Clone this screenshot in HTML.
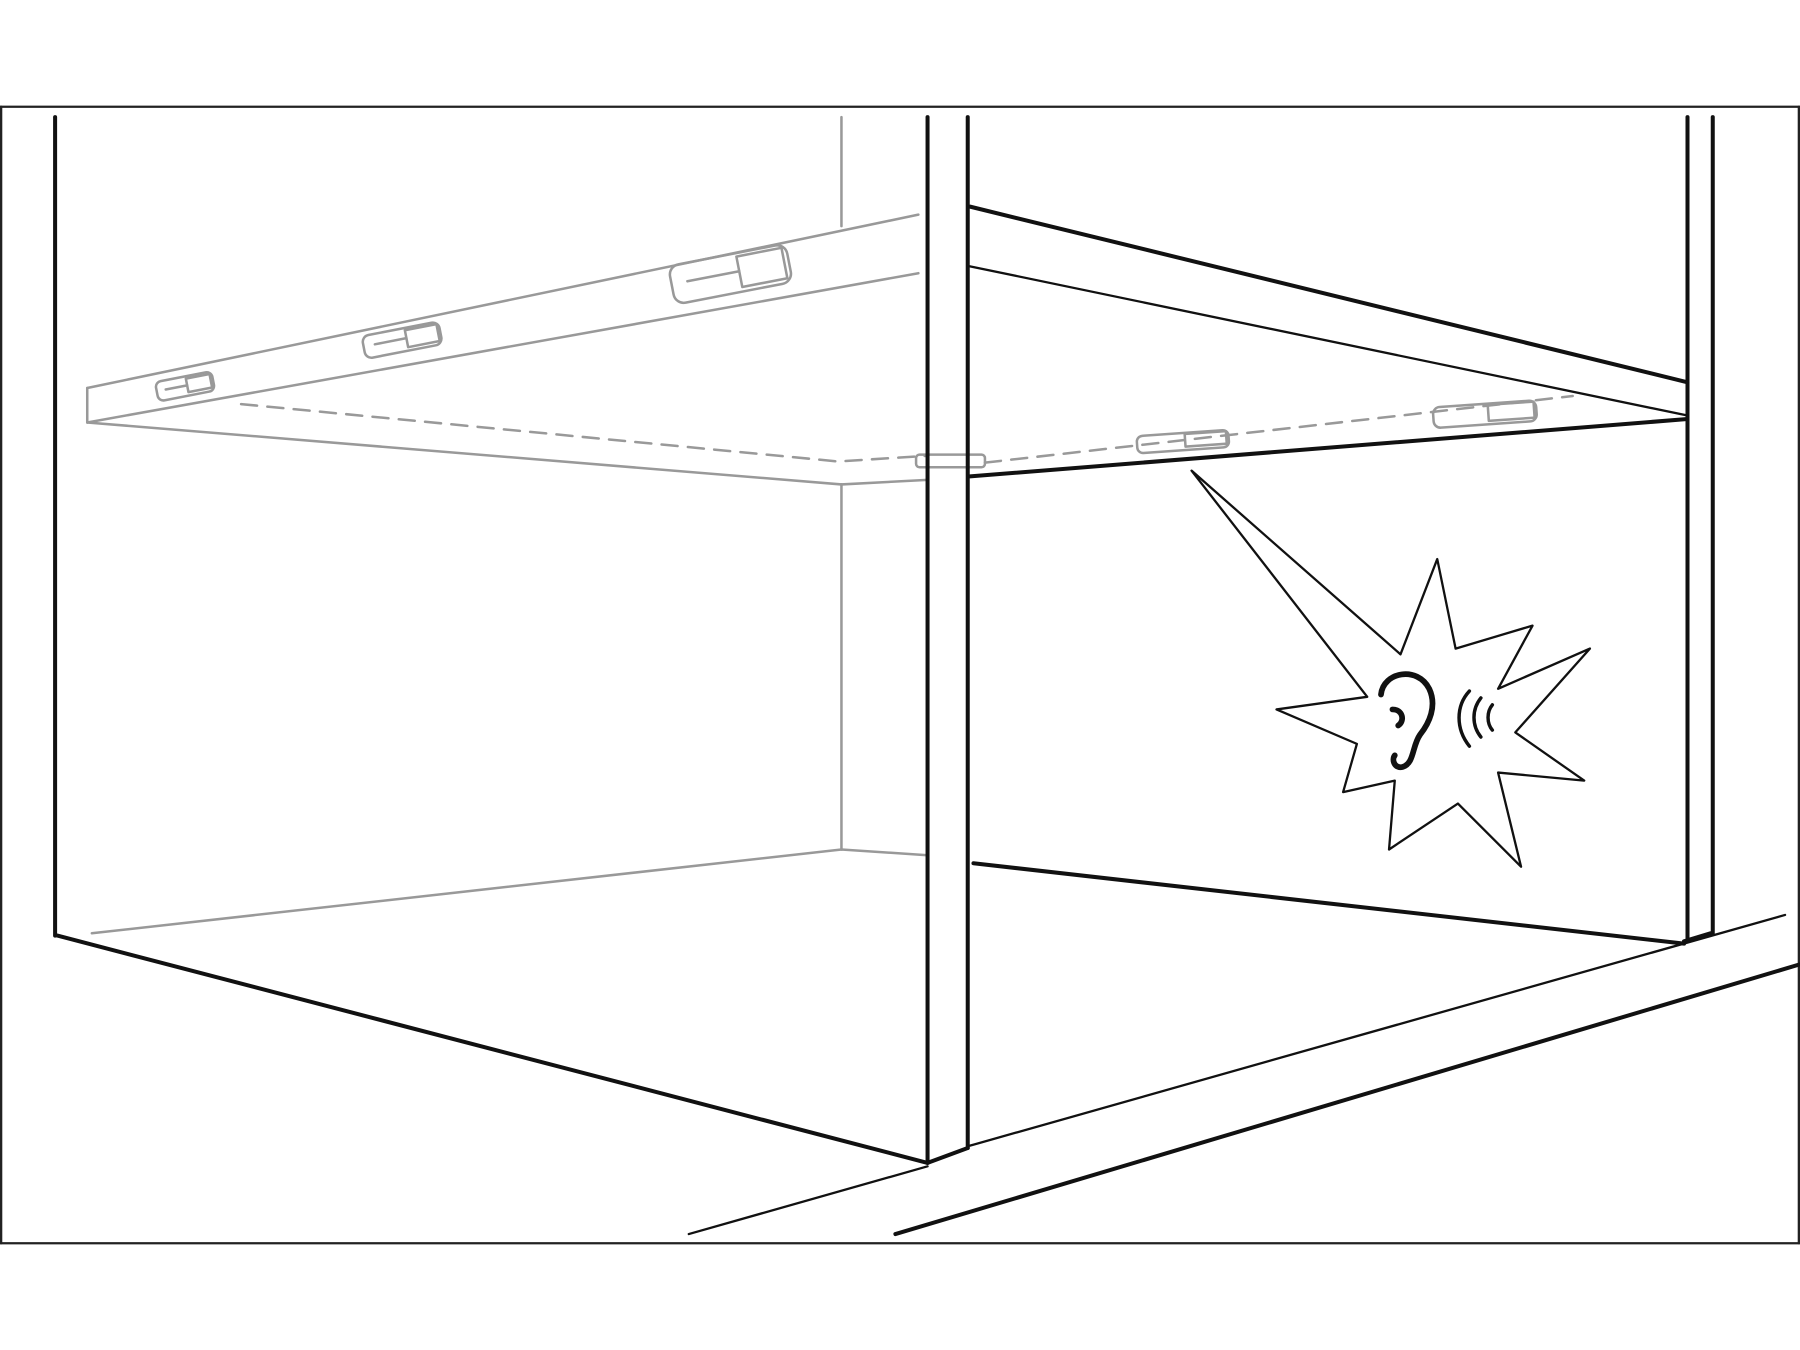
<!DOCTYPE html>
<html><head><meta charset="utf-8"><style>html,body{margin:0;padding:0;background:#fff}svg{display:block}</style></head>
<body>
<svg width="1800" height="1350" viewBox="0 0 1568 1176" xmlns="http://www.w3.org/2000/svg" fill="none" stroke-linecap="round" stroke-linejoin="round">
<rect x="0" y="0" width="1568" height="1176" fill="#fff" stroke="none"/>
<line x1="0" y1="93" x2="1568" y2="93" stroke="#222" stroke-width="2"/>
<line x1="0" y1="1083" x2="1568" y2="1083" stroke="#222" stroke-width="2"/>
<line x1="1" y1="93" x2="1" y2="1083" stroke="#222" stroke-width="2"/>
<line x1="1567" y1="93" x2="1567" y2="1083" stroke="#222" stroke-width="2"/>

<g stroke="#999" stroke-width="2.2">
<line x1="733" y1="102" x2="733" y2="197"/>
<line x1="733" y1="422" x2="733" y2="740"/>
<polyline points="80,813 733,740 808,745"/>
<line x1="76" y1="338" x2="800" y2="187"/>
<line x1="76" y1="368" x2="800" y2="238"/>
<line x1="76" y1="338" x2="76" y2="368"/>
<line x1="76" y1="368" x2="733" y2="422"/>
<line x1="733" y1="422" x2="808" y2="418"/>
<polyline points="210,352 730,402 808,397" stroke-dasharray="14,9"/>
<g transform="translate(135,333) rotate(-11)"><rect x="0" y="0" width="50" height="17" rx="5"/><rect x="27" y="2" width="21" height="12"/><line x1="8" y1="8" x2="27" y2="8"/></g>
<g transform="translate(315,293) rotate(-11)"><rect x="0" y="0" width="68" height="20" rx="6"/><rect x="38" y="2" width="28" height="15"/><line x1="10" y1="9" x2="38" y2="9"/></g>
<g transform="translate(582,232) rotate(-11)"><rect x="0" y="0" width="104" height="34" rx="9"/><rect x="60" y="3" width="40" height="27"/><line x1="14" y1="16" x2="60" y2="16"/></g>
<rect x="798" y="396" width="60" height="11" rx="3"/>
</g>
<g stroke="#999" stroke-width="2.2">
<line x1="858" y1="403" x2="1370" y2="345" stroke-dasharray="14,9"/>
<g transform="translate(990,380) rotate(-4)"><rect x="0" y="0" width="80" height="15" rx="5"/><rect x="42" y="1" width="36" height="11"/></g>
<g transform="translate(1248,355) rotate(-4)"><rect x="0" y="0" width="90" height="18" rx="6"/><rect x="48" y="1" width="40" height="14"/></g>
</g>

<g stroke="#111" stroke-width="3.5">
<line x1="48" y1="102" x2="48" y2="815"/>
<line x1="50" y1="815" x2="808" y2="1013"/>
<line x1="808" y1="102" x2="808" y2="1013"/>
<line x1="843" y1="102" x2="843" y2="1000"/>
<line x1="808" y1="1013" x2="843" y2="1000"/>
<line x1="845" y1="180" x2="1470" y2="333"/>
<line x1="845" y1="415" x2="1470" y2="365"/>
<line x1="1470" y1="102" x2="1470" y2="820"/>
<line x1="1492" y1="102" x2="1492" y2="813"/>
<line x1="1467" y1="820" x2="1490" y2="813"/>
<line x1="848" y1="752" x2="1467" y2="822"/>
<line x1="780" y1="1075" x2="1568" y2="840"/>
</g>
<g stroke="#111" stroke-width="2">
<line x1="845" y1="232" x2="1470" y2="362"/>
<line x1="845" y1="998" x2="1555" y2="797"/>
<line x1="600" y1="1075" x2="808" y2="1016"/>
</g>

<polygon stroke="#111" stroke-width="2" fill="#fff"
points="1038,410 1220,570 1252,487 1268,565 1335,545 1305,600 1385,565 1320,638 1380,680 1305,673 1325,755 1270,700 1210,740 1215,680 1170,690 1182,648 1112,618 1191,607"/>

<g stroke="#111" stroke-width="5" fill="none">
<path d="M1203,605 C1205,585 1235,580 1245,600 C1252,615 1245,630 1237,640 C1230,650 1232,665 1222,668 C1215,670 1212,662 1215,658"/>
<path d="M1213,618 C1222,618 1224,628 1218,632"/>
</g>
<g stroke="#111" stroke-width="3" fill="none">
<path d="M1280,602 C1268,615 1268,635 1280,650"/>
<path d="M1290,608 C1282,618 1282,632 1290,642"/>
<path d="M1300,614 C1295,620 1295,630 1300,636"/>
</g>
</svg>
</body></html>
